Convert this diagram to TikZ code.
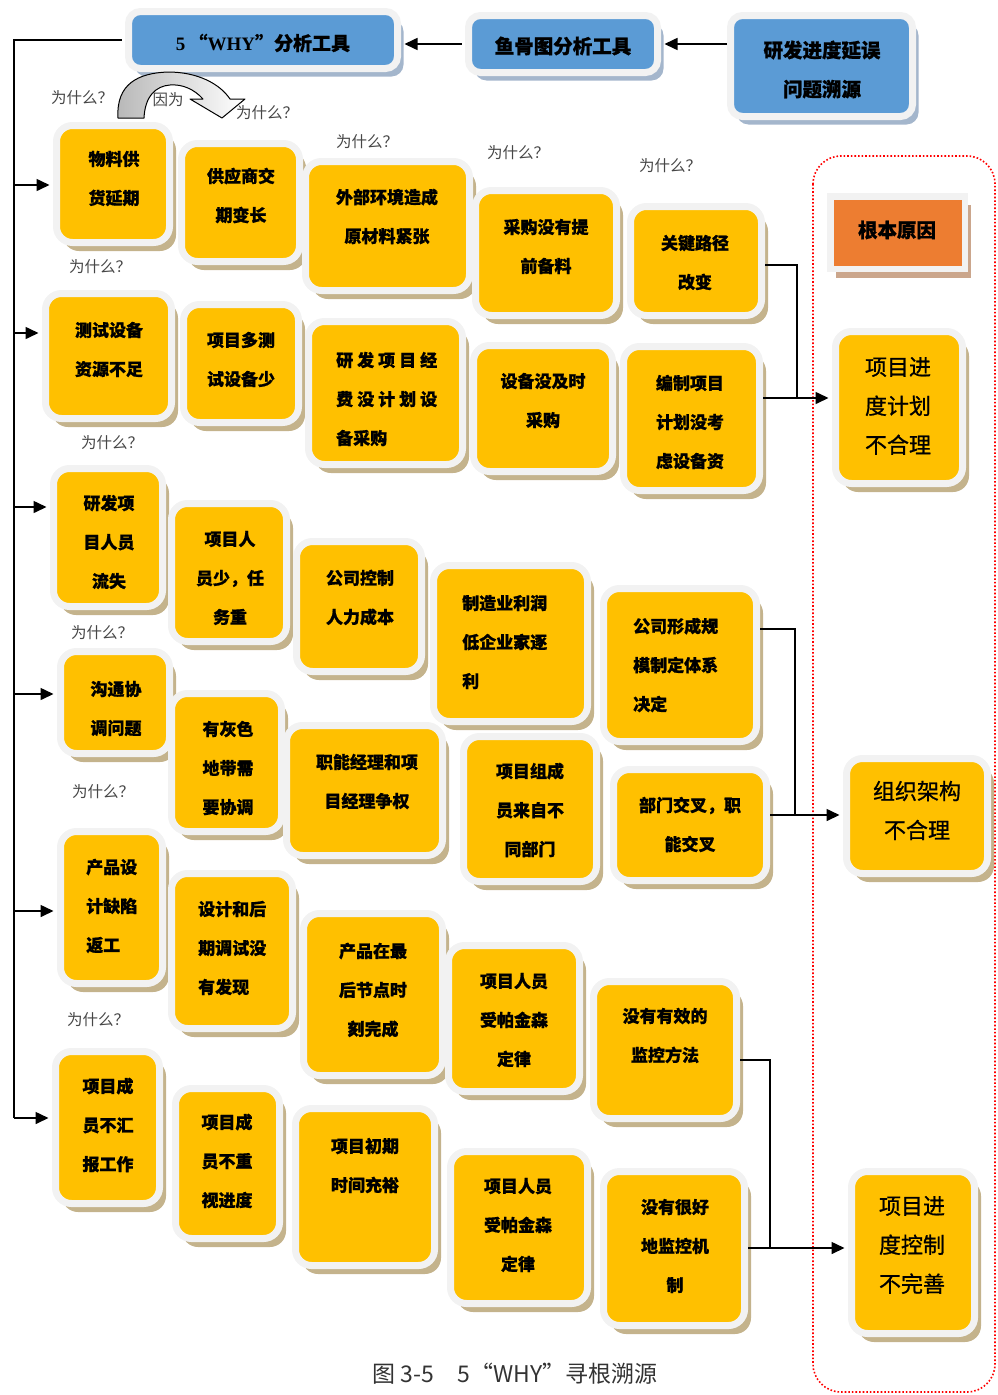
\documentclass[tikz,border=0pt]{standalone}
\usepackage{fontspec}
\newfontfamily\cjkfont{Noto Sans CJK SC}[BoldFeatures={FakeBold=0.8}]
\newfontfamily\rootfont{Noto Sans CJK SC}[FakeBold=0.9]
\newfontfamily\latinserif{Liberation Serif}
\usetikzlibrary{arrows.meta,shadows}

\definecolor{boxyellow}{HTML}{FFC000}
\definecolor{rimgray}{HTML}{F2F2F2}
\definecolor{tanshadow}{HTML}{C4B38C}
\definecolor{boxblue}{HTML}{5B9BD5}
\definecolor{blueshadow}{HTML}{A4B6CC}
\definecolor{boxorange}{HTML}{ED7D31}
\definecolor{orangeshadow}{HTML}{CBA68C}

\tikzset{
  ybox/.style={rectangle, rounded corners=16pt, fill=boxyellow, draw=rimgray,
    line width=7pt, inner sep=0pt,
    drop shadow={shadow xshift=6.5pt, shadow yshift=-8.5pt, fill=tanshadow, opacity=1}},
  bbox/.style={rectangle, rounded corners=12pt, fill=boxblue, draw=rimgray,
    line width=7pt, inner sep=0pt,
    drop shadow={shadow xshift=6pt, shadow yshift=-8pt, fill=blueshadow, opacity=1}},
  obox/.style={rectangle, fill=boxorange, draw=rimgray, line width=6.5pt, inner sep=0pt,
    drop shadow={shadow xshift=6pt, shadow yshift=-9pt, fill=orangeshadow, opacity=1}},
  boxtxt/.style={font=\cjkfont\bfseries\fontsize{17}{39}\selectfont, align=center, inner sep=0pt},
  boxtxtl/.style={boxtxt, align=left, anchor=west},
  toptxt/.style={font=\cjkfont\bfseries\fontsize{19.5}{39}\selectfont, align=center, inner sep=0pt},
  roottxt/.style={font=\rootfont\fontsize{22}{39}\selectfont, align=center, inner sep=0pt},
  whytxt/.style={font=\cjkfont\fontsize{15.5}{18}\selectfont, text=black!72, inner sep=0pt},
  link/.style={line width=1.6pt, draw=black},
  arr/.style={link, -{Triangle[length=13pt,width=12pt]}, shorten >=3.5pt},
}

% box: [style] name x1 y1 x2 y2 (outer edges of the rim)
\newcommand\causebox[6][ybox]{%
  \node[#1, minimum width={(#5-#3-7)*1pt}, minimum height={(#6-#4-7)*1pt}]
    (#2) at ({(#3+#5)/2},{(#4+#6)/2}) {};}

\begin{document}
\begin{tikzpicture}[x=1pt,y=-1pt]
\useasboundingbox (0,0) rectangle (997,1395);

% root-cause frame
\draw[red, dotted, line width=1.6pt, rounded corners=28pt] (813,156) rectangle (995,1392);

% top row
\causebox[bbox]{why}{125}{8}{401}{72}
\node[toptxt, font=\cjkfont\bfseries\fontsize{19}{39}\selectfont] (whyt) at (263,43)
  {{\latinserif\bfseries 5\,}“{\latinserif\bfseries WHY}”分析工具};
\causebox[bbox]{fb}{465}{12}{661}{76}
\node[toptxt] (fbt) at (563,46) {鱼骨图分析工具};
\causebox[bbox]{rd}{727}{12}{916}{120}
\node[toptxt] (rdt) at (822,69.5) {研发进度延误\\问题溯源};

% row 1
\causebox{A1}{53}{122}{173}{246}
\node[boxtxt] (A1t) at (114,178.5) {物料供\\货延期};
\causebox{A2}{178}{140}{303}{265}
\node[boxtxt] (A2t) at (241,195.5) {供应商交\\期变长};
\causebox{A3}{302}{158}{473}{294}
\node[boxtxt] (A3t) at (387,216.5) {外部环境造成\\原材料紧张};
\causebox{A4}{472}{187}{620}{319}
\node[boxtxt] (A4t) at (546,246.5) {采购没有提\\前备料};
\causebox{A5}{627}{203}{765}{319}
\node[boxtxt] (A5t) at (695,262.5) {关键路径\\改变};

% row 2
\causebox{B1}{42}{290}{175}{422}
\node[boxtxt] (B1t) at (109,349.5) {测试设备\\资源不足};
\causebox{B2}{180}{301}{302}{426}
\node[boxtxt] (B2t) at (241,359.5) {项目多测\\试设备少};
\causebox{B3}{305}{318}{466}{468}
\node[boxtxtl] (B3t) at (336,399) {研\kern4pt 发\kern4pt 项\kern4pt 目\kern4pt 经\\费\kern4pt 没\kern4pt 计\kern4pt 划\kern4pt 设\\备采购};
\causebox{B4}{470}{342}{616}{475}
\node[boxtxt] (B4t) at (543,400.5) {设备没及时\\采购};
\causebox{B5}{620}{343}{763}{494}
\node[boxtxt] (B5t) at (690,422) {编制项目\\计划没考\\虑设备资};

% row 3
\causebox{C1}{50}{465}{166}{610}
\node[boxtxt] (C1t) at (109,542) {研发项\\目人员\\流失};
\causebox{C2}{168}{500}{290}{645}
\node[boxtxt] (C2t) at (230,578) {项目人\\员少，任\\务重};
\causebox{C3}{293}{538}{425}{675}
\node[boxtxt] (C3t) at (360,597.5) {公司控制\\人力成本};
\causebox{C4}{430}{562}{591}{725}
\node[boxtxtl] (C4t) at (462,642) {制造业利润\\低企业家逐\\利};
\causebox{C5}{600}{585}{760}{745}
\node[boxtxtl] (C5t) at (633,665) {公司形成规\\模制定体系\\决定};

% row 4
\causebox{D1}{57}{648}{173}{757}
\node[boxtxt] (D1t) at (116,708.5) {沟通协\\调问题};
\causebox{D2}{168}{690}{285}{835}
\node[boxtxt] (D2t) at (228,768) {有灰色\\地带需\\要协调};
\causebox{D3}{283}{722}{446}{859}
\node[boxtxt] (D3t) at (367,781.5) {职能经理和项\\目经理争权};
\causebox{D4}{460}{733}{600}{885}
\node[boxtxt] (D4t) at (530,810) {项目组成\\员来自不\\同部门};
\causebox{D5}{610}{766}{770}{884}
\node[boxtxt] (D5t) at (690,824.5) {部门交叉，职\\能交叉};

% row 5
\causebox{E1}{57}{828}{166}{987}
\node[boxtxtl] (E1t) at (86,906) {产品设\\计缺陷\\返工};
\causebox{E2}{168}{870}{296}{1032}
\node[boxtxtl] (E2t) at (198,948) {设计和后\\期调试没\\有发现};
\causebox{E3}{300}{910}{446}{1079}
\node[boxtxt] (E3t) at (373,990) {产品在最\\后节点时\\刻完成};
\causebox{E4}{445}{942}{583}{1095}
\node[boxtxt] (E4t) at (514,1020) {项目人员\\受帕金森\\定律};
\causebox{E5}{590}{978}{740}{1122}
\node[boxtxt] (E5t) at (665,1035.5) {没有有效的\\监控方法};

% row 6
\causebox{F1}{52}{1048}{163}{1207}
\node[boxtxt] (F1t) at (108,1125) {项目成\\员不汇\\报工作};
\causebox{F2}{172}{1085}{283}{1242}
\node[boxtxt] (F2t) at (227,1161) {项目成\\员不重\\视进度};
\causebox{F3}{292}{1105}{438}{1269}
\node[boxtxt] (F3t) at (365,1165.5) {项目初期\\时间充裕};
\causebox{F4}{447}{1148}{591}{1307}
\node[boxtxt] (F4t) at (518,1225) {项目人员\\受帕金森\\定律};
\causebox{F5}{600}{1168}{748}{1329}
\node[boxtxt] (F5t) at (675,1246) {没有很好\\地监控机\\制};

% root causes
\node[obox, minimum width=134.5pt, minimum height=72.5pt] (root) at (897.5,232.5) {};
\node[toptxt] (roott) at (897,230) {根本原因};
\causebox{R1}{832}{328}{966}{487}
\node[roottxt] (R1t) at (898,406) {项目进\\度计划\\不合理};
\causebox{R2}{843}{755}{991}{877}
\node[roottxt] (R2t) at (917,810.5) {组织架构\\不合理};
\causebox{R3}{848}{1168}{978}{1337}
\node[roottxt] (R3t) at (912,1245) {项目进\\度控制\\不完善};

% question labels
\node[whytxt] (q1) at (82,98) {为什么？};
\node[whytxt] (q2) at (267,113) {为什么？};
\node[whytxt] (q3) at (367,142) {为什么？};
\node[whytxt] (q4) at (518,153) {为什么？};
\node[whytxt] (q5) at (670,166) {为什么？};
\node[whytxt] (q6) at (100,267) {为什么？};
\node[whytxt] (q7) at (112,443) {为什么？};
\node[whytxt] (q8) at (102,633) {为什么？};
\node[whytxt] (q9) at (103,792) {为什么？};
\node[whytxt] (q10) at (98,1020) {为什么？};

% curved "because" arrow
\path[draw=black, line width=1pt, line join=round, left color=black!28, right color=white, shading angle=90]
  (118,118) .. controls (116,84) and (138,73) .. (168,72)
  .. controls (198,72) and (220,84) .. (230,99)
  -- (245,99) -- (222,118) -- (190,99) -- (203,99)
  .. controls (194,89) and (182,84) .. (170,85)
  .. controls (156,86) and (145,96) .. (144,118) -- cycle;
\node[whytxt] (because) at (168,100) {因为};

% top chain
\draw[arr] (rd.west |- fb.east) -- (fb.east);
\draw[arr] ([xshift=-3.5pt]fb.west) -- (fb.west -| why.east);

% trunk to every chain
\coordinate (t1) at (14,185);
\coordinate (t2) at (14,333);
\coordinate (t3) at (14,507);
\coordinate (t4) at (14,694);
\coordinate (t5) at (14,911);
\coordinate (t6) at (14,1118);
\draw[link] ([xshift=-3.5pt]why.west) -| (t6);
\draw[arr] (t1) -- (t1 -| A1.west);
\draw[arr] (t2) -- (t2 -| B1.west);
\draw[arr] (t3) -- (t3 -| C1.west);
\draw[arr] (t4) -- (t4 -| D1.west);
\draw[arr] (t5) -- (t5 -| E1.west);
\draw[arr] (t6) -- (t6 -| F1.west);

% chains merging into root causes
\coordinate (k1) at (797,398);
\draw[link] ([yshift=-4pt]A5.east) -| (k1);
\draw[arr] (B5.east |- k1) -- (k1 -| R1.west);
\coordinate (k2) at (795,815);
\draw[link] ([yshift=36pt]C5.east) -| (k2);
\draw[arr] (D5.east |- k2) -- (k2 -| R2.west);
\coordinate (k3) at (770,1248);
\draw[link] ([yshift=-10pt]E5.east) -| (k3);
\draw[arr] (F5.east |- k3) -- (k3 -| R3.west);

% caption
\node[font=\cjkfont\fontsize{23}{26}\selectfont, text=black!80, inner sep=0pt] (caption)
  at (515,1374) {图 3-5\quad 5“WHY”寻根溯源};
\end{tikzpicture}
\end{document}
